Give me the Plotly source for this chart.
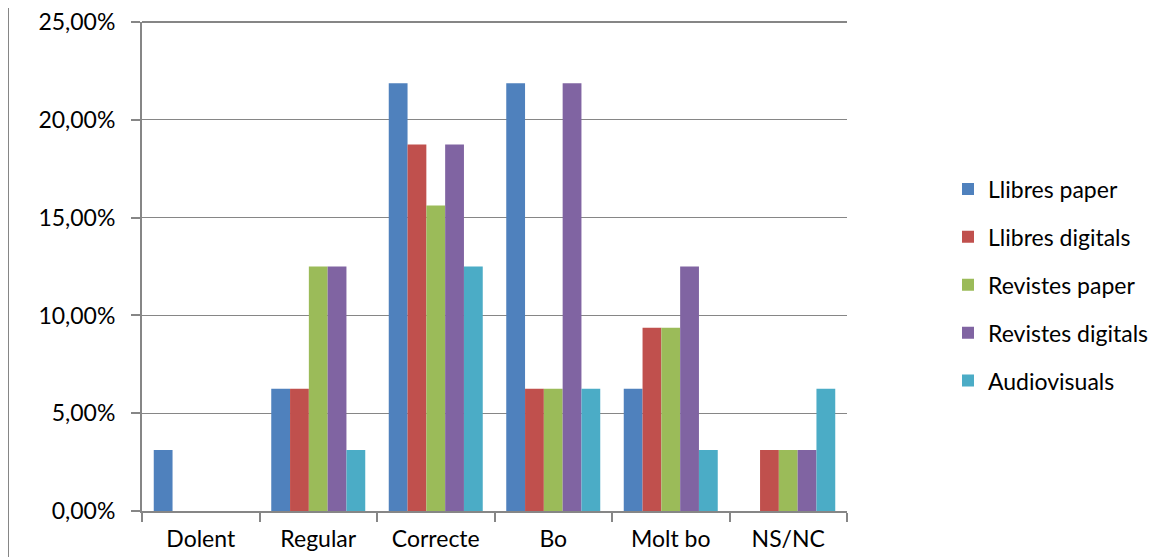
import plotly.graph_objects as go

categories = ["Dolent", "Regular", "Correcte", "Bo", "Molt bo", "NS/NC"]
series_names = ["Llibres paper", "Llibres digitals", "Revistes paper", "Revistes digitals", "Audiovisuals"]
llibres_paper = [0.03125, 0.0625, 0.21875, 0.21875, 0.0625, 0.0]
llibres_digitals = [0.0, 0.0625, 0.1875, 0.0625, 0.09375, 0.03125]
revistes_paper = [0.0, 0.125, 0.15625, 0.0625, 0.09375, 0.03125]
revistes_digitals = [0.0, 0.125, 0.1875, 0.21875, 0.125, 0.03125]
audiovisuals = [0.0, 0.03125, 0.125, 0.0625, 0.03125, 0.0625]
y_ticks = [0, 0.05, 0.10, 0.15, 0.20, 0.25]

colors = ["#4F81BD", "#C0504D", "#9BBB59", "#8064A2", "#4BACC6"]
series_values = [llibres_paper, llibres_digitals, revistes_paper, revistes_digitals, audiovisuals]

# page has an 8px body margin, so figure coords = page coords - 8
W, H = 1152, 549
ml, mt = 134, 14
pw, ph = 705, 489
mr, mb = W - ml - pw, H - mt - ph
FONT = "Lato, Carlito, Calibri, sans-serif"
FS = 23

fig = go.Figure()
for i, (name, vals) in enumerate(zip(series_names, series_values)):
    fig.add_trace(go.Bar(
        x=categories, y=vals, name=name,
        marker=dict(color=colors[i], line=dict(width=0)),
        legendgroup=f"g{i}",
    ))

gray = "#868686"
fig.update_layout(
    width=W, height=H,
    margin=dict(l=ml, r=mr, t=mt, b=mb, pad=0, autoexpand=False),
    paper_bgcolor="white", plot_bgcolor="white",
    separators=",.",
    barmode="group", bargap=0.2, bargroupgap=0,
    font=dict(family=FONT, size=FS, color="black"),
    showlegend=True,
    legend=dict(
        x=(940 - ml) / pw, xanchor="left", xref="paper",
        y=(503 - 277) / ph, yanchor="middle",
        font=dict(family=FONT, size=FS, color="black"),
        tracegroupgap=15, itemwidth=30,
        bgcolor="rgba(0,0,0,0)",
    ),
    xaxis=dict(
        type="category", showgrid=False, tickson="boundaries", automargin=False,
        ticks="outside", ticklen=9, tickcolor=gray, tickwidth=2,
        showline=True, linecolor=gray, linewidth=2,
        tickfont=dict(family=FONT, size=FS), ticklabelstandoff=6,
    ),
    yaxis=dict(
        range=[0, 0.2501], tickvals=y_ticks, tickformat=".2%", automargin=False,
        ticklabeloverflow="allow",
        showgrid=True, gridcolor=gray, gridwidth=1,
        ticks="outside", ticklen=9, tickcolor=gray, tickwidth=2,
        showline=True, linecolor=gray, linewidth=2,
        zeroline=False,
        tickfont=dict(family=FONT, size=FS), ticklabelstandoff=11,
    ),
)
# top edge of the plot area (top gridline)
fig.add_shape(type="line", xref="paper", yref="paper",
              x0=0, x1=1, y0=1, y1=1, layer="below",
              line=dict(color=gray, width=2))
# outer chart border on the left
fig.add_shape(type="line", xref="paper", yref="paper",
              x0=(0 - ml) / pw, x1=(0 - ml) / pw,
              y0=-mb / ph, y1=1 + mt / ph,
              line=dict(color=gray, width=2))
fig.write_html("out.html")
